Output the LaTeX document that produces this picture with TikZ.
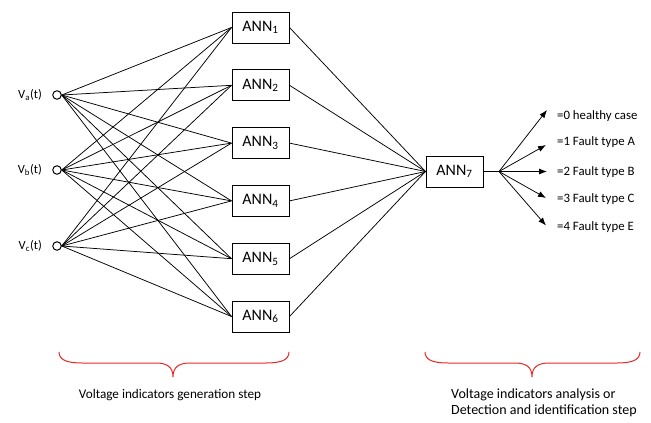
\documentclass[tikz,border=0pt]{standalone}
\usepackage{fontspec}
\setmainfont{Carlito}
\usetikzlibrary{arrows.meta}
\definecolor{bracered}{RGB}{232,40,40}
\tikzset{
  annbox/.style={draw, line width=1pt, minimum width=57pt, minimum height=31pt, inner sep=0pt, font=\fontsize{16}{18}\selectfont},
  inp/.style={draw, circle, line width=1pt, minimum size=8.5pt, inner sep=0pt},
  lab/.style={font=\fontsize{12.5}{14}\selectfont, inner sep=0pt},
  outlab/.style={font=\fontsize{12.8}{14}\selectfont, inner sep=0pt, anchor=west},
  wire/.style={line width=0.75pt},
  outarrow/.style={line width=0.75pt, -{Latex[length=8pt,width=6pt]}},
  brace/.style={draw=bracered, line width=1pt},
  steptext/.style={font=\fontsize{13.2}{16}\selectfont, inner sep=0pt}
}
\begin{document}
\begin{tikzpicture}[x=1pt,y=-1pt]
\useasboundingbox (0,0) rectangle (651,423);
% inputs
\node[inp] (va) at (57,95) {};
\node[inp] (vb) at (57,170) {};
\node[inp] (vc) at (57,246) {};
\node[lab, anchor=east] (la) at (42,95) {V\textsubscript{a}(t)};
\node[lab, anchor=east] (lb) at (42,170) {V\textsubscript{b}(t)};
\node[lab, anchor=east] (lc) at (42,246) {V\textsubscript{c}(t)};
% first layer ANNs
\node[annbox] (a1) at (260.5,27.5) {ANN\textsubscript{1}};
\node[annbox] (a2) at (260.5,85.3) {ANN\textsubscript{2}};
\node[annbox] (a3) at (260.5,143.1) {ANN\textsubscript{3}};
\node[annbox] (a4) at (260.5,200.9) {ANN\textsubscript{4}};
\node[annbox] (a5) at (260.5,258.7) {ANN\textsubscript{5}};
\node[annbox] (a6) at (260.5,316.5) {ANN\textsubscript{6}};
% second layer
\node[annbox] (a7) at (454.5,171.5) {ANN\textsubscript{7}};
% input wires
\foreach \s in {va,vb,vc}{
  \foreach \t in {a1,a2,a3,a4,a5,a6}{
    \draw[wire] (\s.east) -- (\t.west);
  }
}
% to ANN7
\foreach \t in {a1,a2,a3,a4,a5,a6}{
  \draw[wire] (\t.east) -- (a7.west);
}
% outputs
\coordinate (fan) at (499,171.5);
\draw[wire] (a7.east) -- (fan);
\coordinate (t0) at (547,110);
\coordinate (t1) at (546,145);
\coordinate (t2) at (547,171.5);
\coordinate (t3) at (546,198);
\coordinate (t4) at (546,225.5);
\foreach \t in {t0,t1,t2,t3,t4}{
  \draw[outarrow] (fan) -- (\t);
}
\node[outlab] (o0) at (557,116.5) {=0 healthy case};
\node[outlab] (o1) at (557,142) {=1 Fault type A};
\node[outlab] (o2) at (557,172) {=2 Fault type B};
\node[outlab] (o3) at (557,199) {=3 Fault type C};
\node[outlab] (o4) at (557,227) {=4 Fault type E};
% braces
\draw[brace] (59,352) .. controls (59,360) and (67,363) .. (82,363) -- (156,363)
  .. controls (167,363) and (173,367) .. (173,377)
  .. controls (173,367) and (179,363) .. (190,363) -- (266,363)
  .. controls (281,363) and (289,360) .. (289,352);
\draw[brace] (425,352) .. controls (425,360) and (433,363) .. (448,363) -- (515,363)
  .. controls (526,363) and (532,367) .. (532,377)
  .. controls (532,367) and (538,363) .. (549,363) -- (617,363)
  .. controls (632,363) and (640,360) .. (640,352);
\node[steptext] (s1) at (170,395) {Voltage indicators generation step};
\node[steptext, font=\fontsize{14}{16}\selectfont, anchor=west, align=left] (s2) at (451,403) {Voltage indicators analysis or\\Detection and identification step};
\end{tikzpicture}
\end{document}
